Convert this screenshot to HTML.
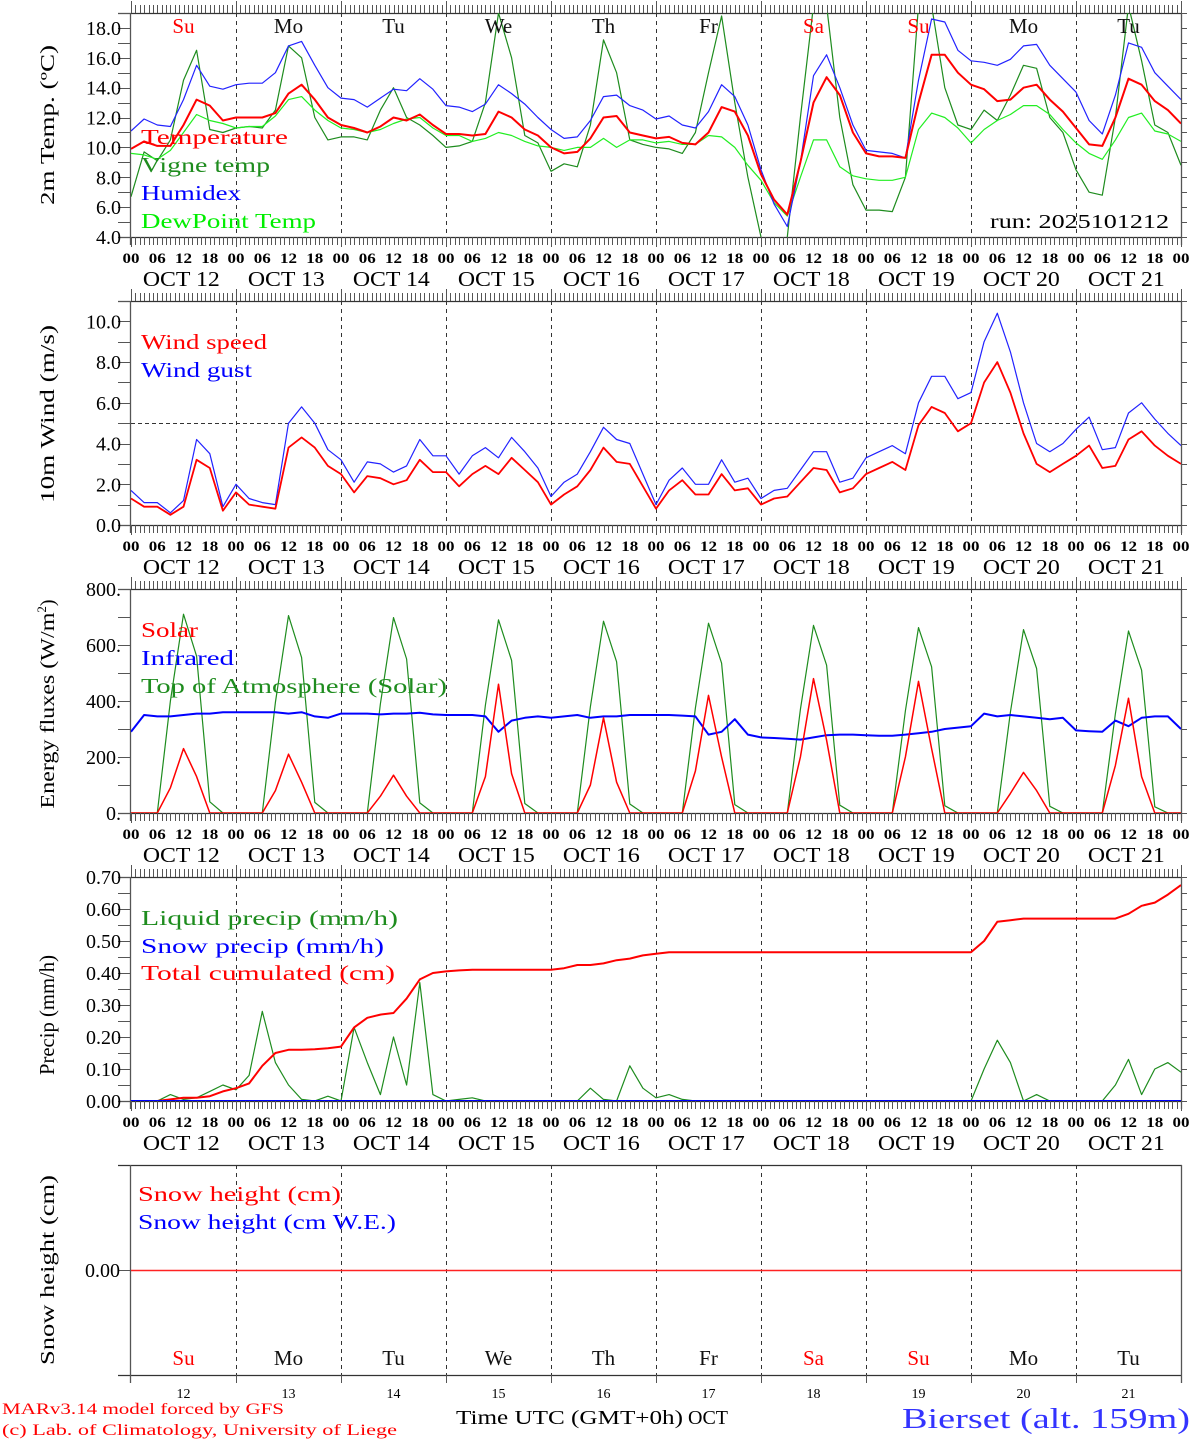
<!DOCTYPE html>
<html><head><meta charset="utf-8"><style>
html,body{margin:0;padding:0;background:#fff;}
svg{display:block;font-family:"Liberation Serif",serif;}
</style></head><body>
<svg id="chart" width="1194" height="1440" viewBox="0 0 1194 1440" xmlns="http://www.w3.org/2000/svg">
<rect width="1194" height="1440" fill="#fff"/>
<defs>
<clipPath id="c1"><rect x="131" y="13" width="1050" height="224"/></clipPath>
<clipPath id="c2"><rect x="131" y="301" width="1050" height="224"/></clipPath>
<clipPath id="c3"><rect x="131" y="589" width="1050" height="224"/></clipPath>
<clipPath id="c4"><rect x="131" y="877" width="1050" height="224"/></clipPath>
</defs>
<g id="axes"></g>
<g id="marks"></g>
<g id="labels">
<text transform="translate(54,125) rotate(-90)" text-anchor="middle" font-size="20" textLength="160" lengthAdjust="spacingAndGlyphs">2m Temp. (ºC)</text>
<text transform="translate(54,414) rotate(-90)" text-anchor="middle" font-size="20" textLength="178" lengthAdjust="spacingAndGlyphs">10m Wind (m/s)</text>
<text transform="translate(54,704) rotate(-90)" text-anchor="middle" font-size="20"><tspan textLength="196" lengthAdjust="spacingAndGlyphs">Energy fluxes (W/m</tspan><tspan font-size="13" dy="-8">2</tspan><tspan dy="8">)</tspan></text>
<text transform="translate(54,1015) rotate(-90)" text-anchor="middle" font-size="21" textLength="120" lengthAdjust="spacingAndGlyphs">Precip (mm/h)</text>
<text transform="translate(54,1270) rotate(-90)" text-anchor="middle" font-size="20" textLength="190" lengthAdjust="spacingAndGlyphs">Snow height (cm)</text>

<text x="141" y="144" font-size="21" fill="#ff0000" textLength="147" lengthAdjust="spacingAndGlyphs">Temperature</text>
<text x="141" y="172" font-size="21" fill="#1e8c1e" textLength="129" lengthAdjust="spacingAndGlyphs">Vigne temp</text>
<text x="141" y="200" font-size="21" fill="#0000ff" textLength="100" lengthAdjust="spacingAndGlyphs">Humidex</text>
<text x="141" y="228" font-size="21" fill="#00ee00" textLength="175" lengthAdjust="spacingAndGlyphs">DewPoint Temp</text>
<text x="990" y="228" font-size="20" textLength="179" lengthAdjust="spacingAndGlyphs">run: 2025101212</text>

<text x="141" y="349" font-size="21" fill="#ff0000" textLength="126" lengthAdjust="spacingAndGlyphs">Wind speed</text>
<text x="141" y="377" font-size="21" fill="#0000ff" textLength="111" lengthAdjust="spacingAndGlyphs">Wind gust</text>

<text x="141" y="637" font-size="21" fill="#ff0000" textLength="57" lengthAdjust="spacingAndGlyphs">Solar</text>
<text x="141" y="665" font-size="21" fill="#0000ff" textLength="93" lengthAdjust="spacingAndGlyphs">Infrared</text>
<text x="141" y="693" font-size="21" fill="#1e8c1e" textLength="306" lengthAdjust="spacingAndGlyphs">Top of Atmosphere (Solar)</text>

<text x="141" y="925" font-size="21" fill="#1e8c1e" textLength="257" lengthAdjust="spacingAndGlyphs">Liquid precip (mm/h)</text>
<text x="141" y="953" font-size="21" fill="#0000ff" textLength="243" lengthAdjust="spacingAndGlyphs">Snow precip (mm/h)</text>
<text x="141" y="980" font-size="21" fill="#ff0000" textLength="254" lengthAdjust="spacingAndGlyphs">Total cumulated (cm)</text>

<text x="138" y="1201" font-size="21" fill="#ff0000" textLength="203" lengthAdjust="spacingAndGlyphs">Snow height (cm)</text>
<text x="138" y="1229" font-size="21" fill="#0000ff" textLength="258" lengthAdjust="spacingAndGlyphs">Snow height (cm W.E.)</text>

<text x="2" y="1414" font-size="16" fill="#ff0000" textLength="282" lengthAdjust="spacingAndGlyphs">MARv3.14 model forced by GFS</text>
<text x="2" y="1435" font-size="16" fill="#ff0000" textLength="395" lengthAdjust="spacingAndGlyphs">(c) Lab. of Climatology, University of Liege</text>
<text x="456" y="1424" font-size="20" textLength="227" lengthAdjust="spacingAndGlyphs">Time UTC (GMT+0h)</text>
<text x="688" y="1424" font-size="20" textLength="40" lengthAdjust="spacingAndGlyphs">OCT</text>
<text x="902" y="1428" font-size="28" fill="#3333ff" textLength="288" lengthAdjust="spacingAndGlyphs">Bierset (alt. 159m)</text>
</g>
</svg>
<script>
// ---------- data (3-hourly, hours 0..240) ----------
const dayNames = ["Su","Mo","Tu","We","Th","Fr","Sa","Su","Mo","Tu"];
const dayNums = ["12","13","14","15","16","17","18","19","20","21"];
const hourLabels = ["00","06","12","18"];
const tempTicks = ["4.0","6.0","8.0","10.0","12.0","14.0","16.0","18.0"];
const windTicks = ["0.0","2.0","4.0","6.0","8.0","10.0"];
const energyTicks = ["0.","200.","400.","600.","800."];
const precipTicks = ["0.00","0.10","0.20","0.30","0.40","0.50","0.60","0.70"];

const temperature = [9.9,10.4,10.1,10.1,11.5,13.2,12.8,11.8, 12.0,12.0,12.0,12.3,13.6,14.2,13.2,12.0, 11.5,11.3,11.0,11.4,12.0,11.8,12.2,11.5, 10.9,10.9,10.8,10.9,12.4,12.0,11.2,10.8, 10.0,9.6,9.7,10.6,12.0,12.1,11.0,10.8, 10.6,10.7,10.3,10.2,11.0,12.7,12.4,10.8, 8.2,6.5,5.5,9.0,13.0,14.7,13.5,11.0, 9.6,9.4,9.4,9.3,13.0,16.2,16.2,15.0, 14.2,13.9,13.1,13.2,14.0,14.2,13.2,12.4, 11.3,10.2,10.1,12.0,14.6,14.2,13.1,12.5,11.6];
const humidex = [11.1,11.9,11.5,11.4,13.2,15.5,14.1,13.9, 14.2,14.3,14.3,15.0,16.8,17.1,15.5,14.0, 13.3,13.2,12.7,13.3,13.9,13.8,14.6,13.9, 12.8,12.7,12.4,12.9,14.2,13.6,12.9,12.0, 11.2,10.6,10.7,11.8,13.4,13.5,12.8,12.5, 11.9,12.1,11.5,11.3,12.4,14.2,13.4,11.5, 8.5,6.2,4.7,9.0,14.8,16.2,14.0,11.5, 9.8,9.7,9.6,9.3,14.5,18.6,18.4,16.5, 15.8,15.7,15.5,15.9,16.8,16.9,15.5,14.6, 13.7,11.8,10.9,13.5,17.0,16.7,15.0,14.1,13.2];
const dewpoint = [9.6,9.5,9.2,9.8,11.0,12.2,11.8,11.6, 11.3,11.4,11.4,12.1,13.2,13.4,12.5,11.8, 11.3,11.2,11.0,11.2,11.6,11.9,12.0,11.3, 10.8,10.8,10.4,10.6,11.0,10.8,10.4,10.1, 10.0,9.8,10.0,10.0,10.6,10.0,10.5,10.5, 10.3,10.4,10.2,10.2,10.8,10.7,10.0,8.8, 7.8,6.3,5.4,8.0,10.5,10.5,8.7,8.1, 7.9,7.8,7.8,8.0,11.2,12.3,12.0,11.3, 10.3,11.2,11.8,12.2,12.8,12.8,12.2,11.2, 10.3,9.6,9.2,10.5,12.0,12.3,11.1,10.9,10.4];
const vigneTemp = [6.7,9.7,9.1,10.5,14.5,16.5,11.2,11.0, 11.3,11.4,11.3,12.5,16.8,16.0,12.0,10.5, 10.7,10.7,10.5,12.5,14.0,12.0,11.5,10.8, 10.0,10.1,10.4,13.0,19.0,16.0,10.8,10.3, 8.4,8.9,8.7,11.5,17.2,15.0,10.5,10.2, 10.0,9.9,9.6,11.0,15.0,18.8,13.0,8.0, 4.0,2.5,4.0,12.0,19.5,19.5,12.0,7.5, 5.8,5.8,5.7,8.0,19.5,19.5,14.0,11.5, 11.2,12.5,11.8,13.5,15.5,15.3,12.0,11.0, 8.5,7.0,6.8,12.0,19.5,15.8,11.5,11.0,8.8];

const windSpeed = [1.3,0.9,0.9,0.5,0.9,3.2,2.8,0.7, 1.6,1.0,0.9,0.8,3.8,4.3,3.8,2.9, 2.5,1.6,2.4,2.3,2.0,2.2,3.2,2.6, 2.6,1.9,2.5,2.9,2.5,3.3,2.7,2.1, 1.0,1.5,1.9,2.7,3.8,3.1,3.0,1.9, 0.8,1.7,2.2,1.5,1.5,2.5,1.7,1.8, 1.0,1.3,1.4,2.1,2.8,2.7,1.6,1.8, 2.5,2.8,3.1,2.7,4.9,5.8,5.5,4.6, 5.0,7.0,8.0,6.5,4.5,3.0,2.6,3.0, 3.4,3.9,2.8,2.9,4.2,4.6,3.9,3.4,3.0];
const windGust = [1.7,1.1,1.1,0.6,1.2,4.2,3.5,0.9, 2.0,1.3,1.1,1.0,5.0,5.8,5.0,3.7, 3.2,2.1,3.1,3.0,2.6,2.9,4.2,3.4, 3.4,2.5,3.4,3.8,3.3,4.3,3.6,2.8, 1.4,2.1,2.5,3.6,4.8,4.2,4.0,2.5, 1.0,2.2,2.8,2.0,2.0,3.2,2.1,2.3, 1.3,1.7,1.8,2.7,3.6,3.6,2.1,2.3, 3.3,3.6,3.9,3.5,6.0,7.3,7.3,6.2, 6.5,9.0,10.4,8.5,6.0,4.0,3.6,4.0, 4.7,5.3,3.7,3.8,5.5,6.0,5.2,4.5,3.9];

const solar = [0,0,0,90,230,130,0,0, 0,0,0,80,210,110,0,0, 0,0,0,60,135,60,0,0, 0,0,0,130,460,140,0,0, 0,0,0,100,340,110,0,0, 0,0,0,150,420,200,0,0, 0,0,0,200,480,260,0,0, 0,0,0,200,470,230,0,0, 0,0,0,70,145,80,0,0, 0,0,0,170,410,130,0,0,0];
const infrared = [290,350,345,345,350,355,355,360, 360,360,360,360,355,360,345,340, 355,355,355,352,355,355,358,352, 350,350,350,345,290,330,340,345, 340,345,350,340,345,345,350,350, 350,350,348,345,280,290,335,280, 270,268,265,262,270,278,280,280, 278,276,276,280,285,290,300,305, 310,355,345,350,345,340,335,340, 295,292,290,330,310,340,345,345,300];
const toaSolar = [0,0,0,400,710,560,40,0, 0,0,0,395,705,555,38,0, 0,0,0,390,698,550,36,0, 0,0,0,385,690,545,34,0, 0,0,0,380,685,540,32,0, 0,0,0,375,678,535,30,0, 0,0,0,370,670,528,28,0, 0,0,0,365,662,522,26,0, 0,0,0,360,655,516,24,0, 0,0,0,355,650,510,22,0,0];

const liquidPrecip = [0,0,0,0.02,0.005,0.01,0.03,0.05, 0.035,0.08,0.28,0.12,0.05,0.005,0,0.015, 0,0.23,0.12,0.02,0.2,0.05,0.37,0.02, 0,0.005,0.01,0,0,0,0,0, 0,0,0,0.04,0.005,0,0.11,0.04, 0.01,0.02,0.005,0,0,0,0,0, 0,0,0,0,0,0,0,0, 0,0,0,0,0,0,0,0, 0,0.1,0.19,0.12,0,0.02,0,0, 0,0,0,0.05,0.13,0.02,0.1,0.12,0.09];
const snowPrecip = [0,0,0,0,0,0,0,0, 0,0,0,0,0,0,0,0, 0,0,0,0,0,0,0,0, 0,0,0,0,0,0,0,0, 0,0,0,0,0,0,0,0, 0,0,0,0,0,0,0,0, 0,0,0,0,0,0,0,0, 0,0,0,0,0,0,0,0, 0,0,0,0,0,0,0,0, 0,0,0,0,0,0,0,0,0];
const totalCumulated = [0,0,0,0.005,0.01,0.01,0.015,0.03, 0.04,0.055,0.11,0.15,0.16,0.16,0.162,0.165, 0.17,0.23,0.26,0.27,0.275,0.32,0.38,0.40, 0.405,0.408,0.41,0.41,0.41,0.41,0.41,0.41, 0.41,0.415,0.425,0.425,0.43,0.44,0.445,0.455, 0.46,0.465,0.465,0.465,0.465,0.465,0.465,0.465, 0.465,0.465,0.465,0.465,0.465,0.465,0.465,0.465, 0.465,0.465,0.465,0.465,0.465,0.465,0.465,0.465, 0.465,0.5,0.56,0.565,0.57,0.57,0.57,0.57, 0.57,0.57,0.57,0.57,0.585,0.61,0.62,0.645,0.675];
const snowHeight = [0,0,0,0,0,0,0,0,0,0,0];

// ---------- drawing ----------
const NS = "http://www.w3.org/2000/svg";
const axesG = document.getElementById('axes');
const marksG = document.getElementById('marks');
const labelsG = document.getElementById('labels');
const X0 = 131, X1 = 1181, HOURS = 240;
function xh(h){ return X0 + (X1 - X0) * h / HOURS; }
function mk(tag, attrs, parent){ const e = document.createElementNS(NS, tag); for (const k in attrs) e.setAttribute(k, attrs[k]); parent.appendChild(e); return e; }
function yScale(top, bottom, vmin, vmax){ return v => bottom - (v - vmin) / (vmax - vmin) * (bottom - top); }

const panels = [
  {top:13, bottom:237, vmin:4, vmax:19, minor:1, labels:tempTicks, clip:'c1', name:'temp'},
  {top:301, bottom:525, vmin:0, vmax:11, minor:1, labels:windTicks, clip:'c2', name:'wind'},
  {top:589, bottom:813, vmin:0, vmax:800, minor:100, labels:energyTicks, clip:'c3', name:'energy'},
  {top:877, bottom:1101, vmin:0, vmax:0.70, minor:0.05, labels:precipTicks, clip:'c4', name:'precip'}
];
panels.forEach(p => { p.y = yScale(p.top, p.bottom, p.vmin, p.vmax); });

panels.forEach((p, pi) => {
  const g = mk('g', {}, axesG);
  
  
  mk('line', {x1:118, y1:p.top+0.5, x2:X1+1, y2:p.top+0.5, stroke:'#333', 'stroke-width':1.3}, g);
  mk('line', {x1:118, y1:p.bottom+0.5, x2:X1+1, y2:p.bottom+0.5, stroke:'#333', 'stroke-width':1.3}, g);
  mk('line', {x1:X0-0.5, y1:p.top, x2:X0-0.5, y2:p.bottom+8, stroke:'#555', 'stroke-width':1.3}, g);
  mk('line', {x1:X1+0.5, y1:p.top, x2:X1+0.5, y2:p.bottom+8, stroke:'#555', 'stroke-width':1.3}, g);
  for (let h = 0; h <= HOURS; h++) {
    const x = Math.round(xh(h)) + 0.5;
    const day = h % 24 === 0;
    mk('line', {x1:x, y1:p.top - (day ? 12 : 8), x2:x, y2:p.top, stroke:'#555', 'stroke-width':1}, g);
    mk('line', {x1:x, y1:p.bottom, x2:x, y2:p.bottom + (day ? 10 : 8), stroke:'#555', 'stroke-width':1}, g);
  }
  const n = Math.round((p.vmax - p.vmin) / p.minor);
  for (let i = 0; i <= n; i++) {
    const v = p.vmin + i * p.minor;
    const y = Math.round(p.y(v)) + 0.5;
    mk('line', {x1:118, y1:y, x2:X0, y2:y, stroke:'#555', 'stroke-width':1}, g);
    mk('line', {x1:X1, y1:y, x2:X1+6, y2:y, stroke:'#555', 'stroke-width':1}, g);
  }
  p.labels.forEach((lab) => {
    const v = parseFloat(lab);
    const t = mk('text', {x:121, y:p.y(v)+7, 'text-anchor':'end', 'font-size':20}, g);
    
    
    t.textContent = lab;
  });
  for (let d = 1; d < 10; d++) {
    const x = Math.round(xh(d*24)) + 0.5;
    const l = mk('line', {x1:x, y1:p.top, x2:x, y2:p.bottom, stroke:'#333', 'stroke-width':1, 'stroke-dasharray':'4,4'}, g);
    
    
  }
  for (let d = 0; d < 10; d++) {
    hourLabels.forEach((hl, k) => {
      const t = mk('text', {x:xh(d*24 + k*6), y:p.bottom+26, 'text-anchor':'middle', 'font-size':15, 'font-weight':'bold', textLength:17, lengthAdjust:'spacingAndGlyphs'}, g);
      
      
      t.textContent = hl;
    });
    const t2 = mk('text', {x:xh(d*24 + 11.5), y:p.bottom+49, 'text-anchor':'middle', 'font-size':21, textLength:77, lengthAdjust:'spacingAndGlyphs'}, g);
    
    
    t2.textContent = 'OCT ' + dayNums[d];
  }
  const tl = mk('text', {x:xh(240), y:p.bottom+26, 'text-anchor':'middle', 'font-size':15, 'font-weight':'bold', textLength:17, lengthAdjust:'spacingAndGlyphs'}, g);
  
  
  tl.textContent = '00';
});

dayNames.forEach((dn, d) => {
  const t = mk('text', {x:xh(d*24+12), y:33, 'text-anchor':'middle', 'font-size':21, fill:(dn==='Su'||dn==='Sa')?'#ff0000':'#111'}, labelsG);
  
  
  t.textContent = dn;
});

const ref = mk('line', {x1:X0, y1:Math.round(panels[1].y(5))+0.5, x2:X1, y2:Math.round(panels[1].y(5))+0.5, stroke:'#333', 'stroke-width':1, 'stroke-dasharray':'4,3'}, axesG);



function series(vals, p, color, width, name){
  const pts = vals.map((v, i) => xh(i*3).toFixed(1) + ',' + p.y(v).toFixed(1)).join(' ');
  const pl = mk('polyline', {points:pts, fill:'none', stroke:color, 'stroke-width':width, 'stroke-linejoin':'round', 'clip-path':'url(#' + p.clip + ')'}, marksG);
  
  
}
series(vigneTemp, panels[0], '#1e8c1e', 1.2, 'vigne-temp-line');
series(dewpoint, panels[0], '#22ee22', 1.2, 'dewpoint-line');
series(humidex, panels[0], '#2222ff', 1.2, 'humidex-line');
series(temperature, panels[0], '#ff0000', 2, 'temperature-line');
series(windGust, panels[1], '#2222ff', 1.2, 'wind-gust-line');
series(windSpeed, panels[1], '#ff0000', 1.8, 'wind-speed-line');
series(toaSolar, panels[2], '#1e8c1e', 1.2, 'toa-solar-line');
series(infrared, panels[2], '#0000ff', 2, 'infrared-line');
series(solar, panels[2], '#ff0000', 1.5, 'solar-line');
series(liquidPrecip, panels[3], '#1e8c1e', 1.2, 'liquid-precip-line');
series(totalCumulated, panels[3], '#ff0000', 2, 'total-cumulated-line');
series(snowPrecip, panels[3], '#0000ff', 2, 'snow-precip-line');

// ---------- snow panel ----------
const sTop = 1165, sBot = 1375, sZero = 1270;
const sg = mk('g', {}, axesG);


mk('line', {x1:118, y1:sTop+0.5, x2:X1+1, y2:sTop+0.5, stroke:'#333', 'stroke-width':1.3}, sg);
mk('line', {x1:118, y1:sBot+0.5, x2:X1+1, y2:sBot+0.5, stroke:'#333', 'stroke-width':1.3}, sg);
mk('line', {x1:X0-0.5, y1:sTop, x2:X0-0.5, y2:sBot+8, stroke:'#555', 'stroke-width':1.3}, sg);
mk('line', {x1:X1+0.5, y1:sTop, x2:X1+0.5, y2:sBot+8, stroke:'#555', 'stroke-width':1.3}, sg);
mk('line', {x1:118, y1:sZero+0.5, x2:X0, y2:sZero+0.5, stroke:'#555', 'stroke-width':1}, sg);
const z = mk('text', {x:120, y:sZero+7, 'text-anchor':'end', 'font-size':20}, sg);


z.textContent = '0.00';
for (let d = 1; d < 10; d++) {
  const x = Math.round(xh(d*24)) + 0.5;
  mk('line', {x1:x, y1:sTop, x2:x, y2:sBot, stroke:'#333', 'stroke-width':1, 'stroke-dasharray':'4,4'}, sg);
  mk('line', {x1:x, y1:sBot, x2:x, y2:sBot+8, stroke:'#555', 'stroke-width':1}, sg);
}
dayNames.forEach((dn, d) => {
  const t = mk('text', {x:xh(d*24+12), y:1365, 'text-anchor':'middle', 'font-size':21, fill:(dn==='Su'||dn==='Sa')?'#ff0000':'#111'}, labelsG);
  
  
  t.textContent = dn;
  const t2 = mk('text', {x:xh(d*24+12), y:1398, 'text-anchor':'middle', 'font-size':14}, labelsG);
  
  
  t2.textContent = dayNums[d];
});
const sPts = snowHeight.map((v, i) => xh(i*24).toFixed(1) + ',' + (sZero + 0.5 - v*100).toFixed(1)).join(' ');
const sl = mk('polyline', {points:sPts, fill:'none', stroke:'#ff2222', 'stroke-width':1.5}, marksG);


</script>
</body></html>
